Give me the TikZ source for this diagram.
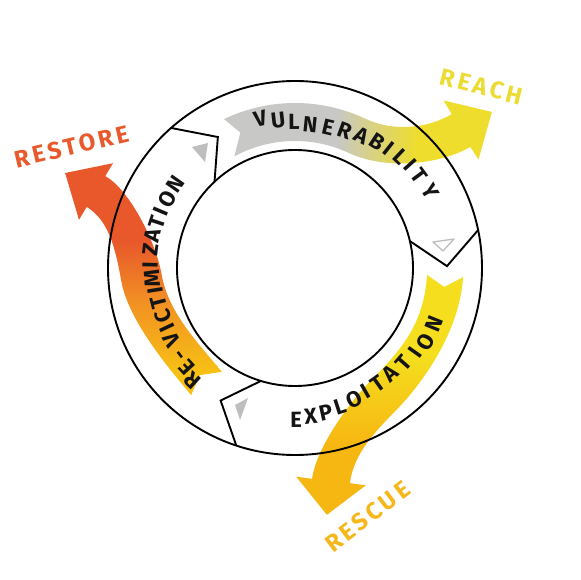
\documentclass[tikz,border=0pt]{standalone}
\usepackage{fontspec}
\newfontfamily\dinfont{Fira Sans}
\definecolor{vgrey}{RGB}{200,200,198}
\definecolor{vyellow}{RGB}{238,221,44}
\definecolor{eyellow}{RGB}{244,222,30}
\definecolor{eorange}{RGB}{247,183,18}
\definecolor{ryellow}{RGB}{247,192,20}
\definecolor{rmid}{RGB}{242,145,35}
\definecolor{rred}{RGB}{232,88,43}
\definecolor{reachcol}{RGB}{236,219,50}
\definecolor{rescuecol}{RGB}{245,183,28}
\definecolor{restorecol}{RGB}{232,90,44}
\definecolor{trigrey}{RGB}{190,190,190}
\definecolor{txt}{RGB}{20,20,20}
\pgfdeclarehorizontalshading{vulshade}{100bp}{color(0bp)=(vgrey); color(46bp)=(vgrey); color(61bp)=(vyellow); color(100bp)=(vyellow)}
\pgfdeclareverticalshading{expshade}{100bp}{color(0bp)=(eorange); color(40bp)=(eorange); color(58bp)=(eyellow); color(100bp)=(eyellow)}
\pgfdeclareverticalshading{revshade}{100bp}{color(0bp)=(ryellow); color(30bp)=(ryellow); color(45bp)=(rmid); color(58bp)=(rred); color(100bp)=(rred)}
\tikzset{
  ringline/.style={draw=black, line width=1.9pt, line join=miter},
  ringtext/.style={font=\dinfont\bfseries\fontsize{22}{22}\selectfont, inner sep=0pt, anchor=center, text=txt},
  lbl/.style={font=\dinfont\bfseries\fontsize{24}{24}\selectfont\addfontfeature{LetterSpace=14}, inner sep=0pt, anchor=center},
  trifill/.style={fill=trigrey, draw=none},
  triline/.style={draw=trigrey, line width=1.3pt, line join=round}
}
\begin{document}
\begin{tikzpicture}[x=1pt,y=1pt]
\useasboundingbox (-295,-312) rectangle (285,268);
\coordinate (c) at (0,0);
% ---- Vulnerability arrow (grey -> yellow)
\shade[shading=vulshade]
  (115.5:165) arc[start angle=115.5, end angle=65, radius=165]
  .. controls (101,134.8) and (135.3,141) .. (156.7,153.9)
  -- (148.5,167.6) -- (196.9,156) -- (183.5,108.4) -- (175.3,121.1)
  .. controls (149.6,105.7) and (94.9,96) .. (65:127)
  arc[start angle=65, end angle=118.5, radius=127]
  -- (112:146) -- cycle;
% ---- Exploitation arrow (yellow -> orange)
\shade[shading=expshade]
  (168,-9.1) .. controls (165,-59.1) and (133.3,-108.6) .. (101.8,-141.6)
  .. controls (80.8,-162.9) and (58.6,-185.4) .. (54.9,-215.2)
  -- (70.8,-217.3) -- (31.9,-246.8) -- (1.2,-208.7) -- (17.1,-210.8)
  .. controls (20.8,-181) and (53.2,-135.7) .. (74.2,-114.4)
  .. controls (105.7,-82.4) and (129,-56.9) .. (132,-6.9)
  -- (149.3,-19) -- cycle;
% ---- Re-victimization arrow (yellow -> red)
\shade[shading=revshade]
  (-103.8,-127.1) .. controls (-126.3,-100.3) and (-166.7,-52.5) .. (-173.7,-13.1)
  .. controls (-179.8,21.4) and (-186.9,48.2) .. (-208.3,61.1)
  -- (-216,48.2) -- (-229.9,95) -- (-182,104.8) -- (-189.7,91.9)
  .. controls (-166.3,79) and (-139.4,27.6) .. (-133.3,-6.9)
  .. controls (-126.3,-46.3) and (-94.7,-77.1) .. (-73.2,-103.9)
  -- (-95.1,-107.1) -- cycle;
% ---- ring
\draw[ringline] (c) circle[radius=187];
\draw[ringline] (c) circle[radius=118];
\foreach \a/\n in {131.5/s1, 11.7/s2, 251.7/s3}{
  \coordinate (\n o) at (\a:187);
  \coordinate (\n v) at ({\a-11}:152);
  \coordinate (\n i) at ({\a+1.5}:118);
  \draw[ringline] (\n o) -- (\n v) -- (\n i);
}
% ---- small triangles
\fill[trifill] (-103,121) -- (-87,125) -- (-90,106) -- cycle;
\draw[triline] (138,26) -- (159,29) -- (148,17) -- cycle;
\fill[trifill] (-60,-137) -- (-47,-130) -- (-55,-152) -- cycle;
% ---- ring texts
\foreach \ch/\ang/\rad [count=\i] in {V/103.1/153, U/96.5/149, L/90.4/146, N/84/144.5, E/76.8/144.5, R/70.1/146, A/63.2/148.5, B/56.8/150.5, I/51.7/152, L/46.6/153.5, I/41.7/154.5, T/36.5/155, Y/29.5/155}
  \node[ringtext, rotate=\ang-90] (v\i) at (\ang:\rad) {\vphantom{E}\ch};
\foreach \ch/\ang/\rad [count=\i] in {E/-89.6/152, X/-84/149, P/-78/147.5, L/-72/145.5, O/-65.5/144, I/-60.3/142, T/-54.5/142, A/-48/142, T/-41.2/145, I/-35.3/147, O/-29.5/150, N/-21.9/150}
  \node[ringtext, rotate=\ang+90] (e\i) at (\ang:\rad) {\vphantom{E}\ch};
\foreach \ch/\ang/\rad [count=\i] in {R/227.6/152, E/222.5/147, -/217.2/145, V/210.3/142.5, I/205.3/141, C/200.1/140.5, T/194.1/140.5, I/189.1/141, M/184/143.3, I/178.8/145, Z/172.9/145.1, A/167.3/145.6, T/161.8/145.5, I/157.2/145.8, O/151.5/145, N/145/146}
  \node[ringtext, rotate=\ang-90] (r\i) at (\ang:\rad) {\vphantom{E}\ch};
% ---- outer labels
\node[lbl, text=reachcol, rotate=-14.2] (reach) at (186.5,181.5) {REACH};
\node[lbl, text=restorecol, rotate=13.3] (restore) at (-223.5,121.5) {RESTORE};
\node[lbl, text=rescuecol, rotate=37.5] (rescue) at (72.5,-248.5) {RESCUE};
\end{tikzpicture}
\end{document}
